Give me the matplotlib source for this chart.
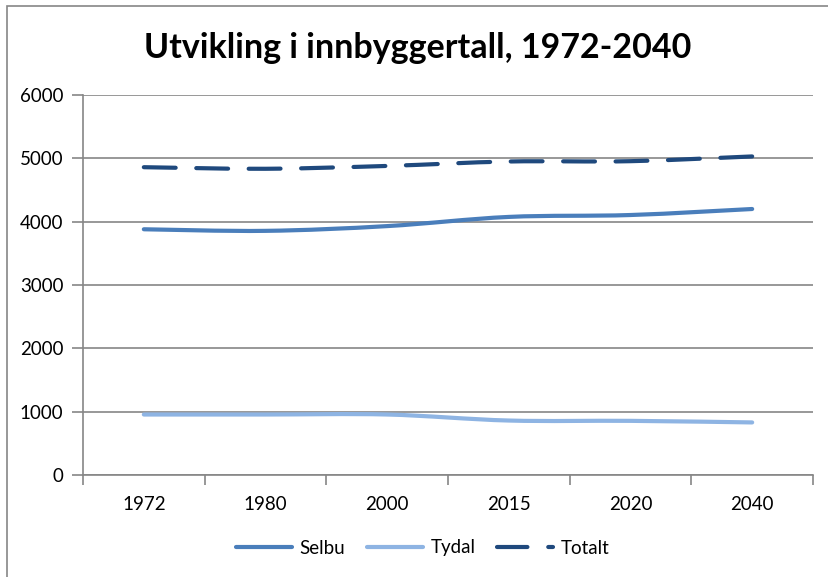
import matplotlib
matplotlib.use("Agg")
import matplotlib.pyplot as plt
from matplotlib.path import Path
from matplotlib.patches import PathPatch, Rectangle
from matplotlib.lines import Line2D
import numpy as np

years = ["1972", "1980", "2000", "2015", "2020", "2040"]
selbu = [3880, 3855, 3930, 4075, 4105, 4200]
tydal = [955, 955, 955, 860, 855, 830]
totalt = [4860, 4835, 4880, 4950, 4955, 5030]
title = "Utvikling i innbyggertall, 1972-2040"
series_names = ["Selbu", "Tydal", "Totalt"]

W, H = 829, 577
DPI = 100
fig = plt.figure(figsize=(W / DPI, H / DPI), dpi=DPI)
plt.rcParams['font.family'] = ['Lato', 'DejaVu Sans']

grey = "#868686"
fig.patches.append(Rectangle((7 / W, -0.1), 2, 1.1 - 6 / H, transform=fig.transFigure,
                             fill=False, edgecolor=grey, linewidth=1.2))

L, R, T, B = 83, 813, 95, 475
ax = fig.add_axes([L / W, 1 - B / H, (R - L) / W, (B - T) / H])

x = np.arange(len(years))
ax.set_xlim(-0.5, len(years) - 0.5)
ax.set_ylim(0, 6000)


def smooth_path(xs, ys):
    xs = np.asarray(xs, float)
    ys = np.asarray(ys, float)
    n = len(xs)
    verts = [(xs[0], ys[0])]
    codes = [Path.MOVETO]
    for i in range(n - 1):
        p0 = np.array([xs[max(i - 1, 0)], ys[max(i - 1, 0)]])
        p1 = np.array([xs[i], ys[i]])
        p2 = np.array([xs[i + 1], ys[i + 1]])
        p3 = np.array([xs[min(i + 2, n - 1)], ys[min(i + 2, n - 1)]])
        c1 = p1 + (p2 - p0) / 6.0
        c2 = p2 - (p3 - p1) / 6.0
        verts += [tuple(c1), tuple(c2), tuple(p2)]
        codes += [Path.CURVE4] * 3
    return Path(verts, codes)


def path_length_px(path):
    v = ax.transData.transform(path.vertices)
    total = 0.0
    t = np.linspace(0, 1, 60)[:, None]
    for k in range(0, len(v) - 1, 3):
        p0, c1, c2, p1 = v[k], v[k + 1], v[k + 2], v[k + 3]
        pts = ((1 - t) ** 3) * p0 + 3 * ((1 - t) ** 2) * t * c1 + 3 * (1 - t) * t ** 2 * c2 + t ** 3 * p1
        total += np.sum(np.hypot(*np.diff(pts, axis=0).T))
    return total


colors = ["#4A7EBB", "#8EB4E3", "#1F497D"]
lw = 3.0
lw_px = lw * DPI / 72.0
on0, off0 = 7.5, 4.85
n_dash = 12
for vals, c, name in zip([selbu, tydal, totalt], colors, series_names):
    p = smooth_path(x, vals)
    kw = dict(facecolor="none", edgecolor=c, linewidth=lw, capstyle="round", joinstyle="round")
    if name == "Totalt":
        length = path_length_px(p) / lw_px
        s = length / (n_dash * on0 + (n_dash - 1) * off0)
        kw["linestyle"] = (0, (on0 * s, off0 * s))
    ax.add_patch(PathPatch(p, **kw))

ax.set_yticks(range(0, 6001, 1000))
ax.set_xticks(x)
ax.set_xticklabels(years)
ax.set_xticks(np.arange(-0.5, len(years), 1.0), minor=True)
ax.tick_params(axis="x", which="major", length=0, pad=15, labelsize=13.5)
ax.tick_params(axis="x", which="minor", length=7, width=1.2, color=grey, direction="out")
ax.tick_params(axis="y", length=8, width=1.2, color=grey, pad=6, labelsize=13.5)
ax.yaxis.grid(True, color=grey, linewidth=1.2)
ax.set_axisbelow(True)
for s_ in ["top", "right"]:
    ax.spines[s_].set_visible(False)
for s_ in ["left", "bottom"]:
    ax.spines[s_].set_color(grey)
    ax.spines[s_].set_linewidth(1.2)
ax.spines["bottom"].set_zorder(0.5)

fig.text(0.5 + 3 / W, 1 - 48 / H, title, ha="center", va="center", fontsize=24.5,
         fontweight="bold")

legend_dash = (0, (7.3, 5.0))
handles = [Line2D([], [], color=colors[0], lw=lw, solid_capstyle="round"),
           Line2D([], [], color=colors[1], lw=lw, solid_capstyle="round"),
           Line2D([], [], color=colors[2], lw=lw, linestyle=legend_dash, dash_capstyle="round")]
fig.legend(handles, series_names, loc="center", bbox_to_anchor=(0.5 + 8 / W, 1 - 548 / H),
           ncol=3, frameon=False, fontsize=13.5, handlelength=3.0, columnspacing=1.15,
           handletextpad=0.4)

fig.savefig("out.png", dpi=DPI)
